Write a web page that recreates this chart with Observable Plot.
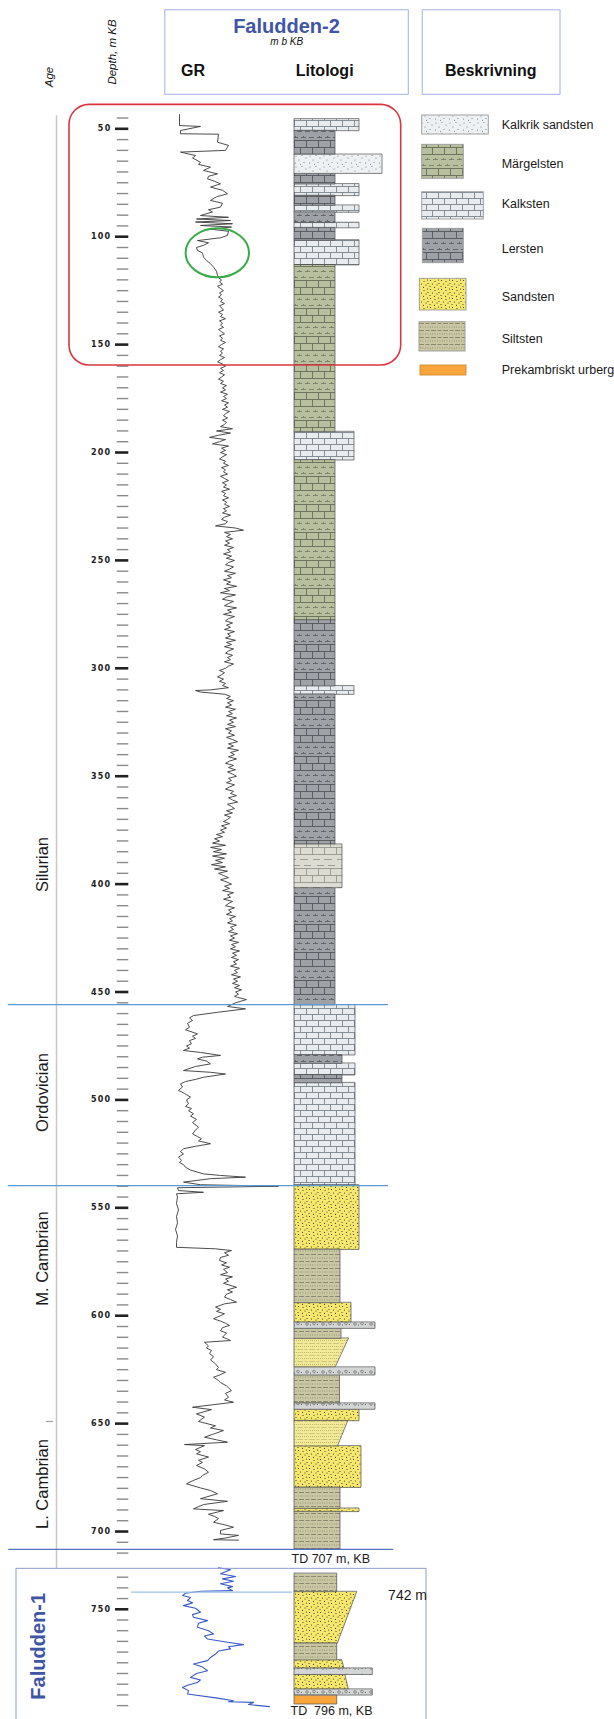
<!DOCTYPE html>
<html><head><meta charset="utf-8">
<script src="https://cdn.jsdelivr.net/npm/d3@7"></script>
<script src="https://cdn.jsdelivr.net/npm/@observablehq/plot@0.6"></script>
<style>
body{margin:0;background:#fff;font-family:"Liberation Sans",Arial,sans-serif;}
#wrap{position:relative;width:614px;height:1719px;overflow:hidden;}
#wrap svg.layer{position:absolute;left:0;top:0;}
</style></head><body>
<svg width="0" height="0" style="position:absolute">
<defs>
<pattern id="p-kalk" width="24" height="12" patternUnits="userSpaceOnUse">
 <rect width="24" height="12" fill="#e8ecef"/>
 <path d="M0 0.5H24M0 6.5H24M6.5 0.5V6.5M18.5 0.5V6.5M0.5 6.5V12M12.5 6.5V12" stroke="#7b838c" stroke-width="0.9" fill="none"/>
</pattern>
<pattern id="p-margel" width="24" height="28" patternUnits="userSpaceOnUse">
 <rect width="24" height="28" fill="#b7bf9f"/>
 <path d="M0 0.5H24M0 7.5H24M0 14.5H24M6.5 0.5V7.5M18.5 0.5V7.5M0.5 7.5V14.5M12.5 7.5V14.5" stroke="#5d6350" stroke-width="0.8" fill="none"/>
 <path d="M1 19.5H6M9 19.5H14M17 19.5H22M3.5 18V19.5M11.5 18V19.5M19.5 18V19.5M5 25.5H10M13 25.5H18M21 25.5H24M0 25.5H2M7.5 24V25.5M15.5 24V25.5" stroke="#70775f" stroke-width="0.8" fill="none"/>
</pattern>
<pattern id="p-ler" width="24" height="28" patternUnits="userSpaceOnUse">
 <rect width="24" height="28" fill="#9ea2a7"/>
 <path d="M0 0.5H24M0 7.5H24M0 14.5H24M6.5 0.5V7.5M18.5 0.5V7.5M0.5 7.5V14.5M12.5 7.5V14.5" stroke="#4a4e54" stroke-width="0.8" fill="none"/>
 <path d="M1 19.5H6M9 19.5H14M17 19.5H22M3.5 18V19.5M11.5 18V19.5M19.5 18V19.5M5 25.5H10M13 25.5H18M21 25.5H24M0 25.5H2M7.5 24V25.5M15.5 24V25.5" stroke="#55595f" stroke-width="0.8" fill="none"/>
</pattern>
<pattern id="p-lerkalk" width="24" height="28" patternUnits="userSpaceOnUse">
 <rect width="24" height="28" fill="#dcdcd3"/>
 <path d="M0 0.5H24M0 7.5H24M0 14.5H24M6.5 0.5V7.5M18.5 0.5V7.5M0.5 7.5V14.5M12.5 7.5V14.5" stroke="#8d8d87" stroke-width="0.8" fill="none"/>
 <path d="M1 19.5H8M12 19.5H20M5 25.5H12M16 25.5H23" stroke="#8d8d87" stroke-width="0.8" fill="none"/>
</pattern>
<pattern id="p-kalkrik" width="14" height="11" patternUnits="userSpaceOnUse">
 <rect width="14" height="11" fill="#eef1f3"/>
 <g fill="#6d7479"><circle cx="2" cy="2" r="0.55"/><circle cx="8" cy="1.5" r="0.55"/><circle cx="12" cy="4" r="0.55"/><circle cx="5" cy="6" r="0.55"/><circle cx="10" cy="8.5" r="0.55"/><circle cx="1.5" cy="9" r="0.55"/><circle cx="6.5" cy="10.2" r="0.55"/></g>
</pattern>
<pattern id="p-sand" width="11" height="9" patternUnits="userSpaceOnUse">
 <rect width="11" height="9" fill="#f6e86c"/>
 <g fill="#2f2f2f"><circle cx="1.5" cy="1.5" r="0.6"/><circle cx="6" cy="2.5" r="0.6"/><circle cx="9.5" cy="1" r="0.6"/><circle cx="3.5" cy="5" r="0.6"/><circle cx="8" cy="6" r="0.6"/><circle cx="1" cy="7.5" r="0.6"/><circle cx="5.5" cy="8.3" r="0.6"/><circle cx="10" cy="4.5" r="0.6"/></g>
</pattern>
<pattern id="p-siltsand" width="12" height="6" patternUnits="userSpaceOnUse">
 <rect width="12" height="6" fill="#f3ea98"/>
 <path d="M0 2.5H12" stroke="#a79f5a" stroke-width="0.7" stroke-dasharray="1 1"/>
 <path d="M0 5.5H12" stroke="#b3ab6a" stroke-width="0.6" stroke-dasharray="3 1.5"/>
</pattern>
<pattern id="p-silt" width="12" height="7" patternUnits="userSpaceOnUse">
 <rect width="12" height="7" fill="#c9c7a3"/>
 <path d="M0 1.5H12" stroke="#6f6d58" stroke-width="0.7" stroke-dasharray="4 1.5"/>
 <path d="M0 5H12" stroke="#7d7b64" stroke-width="0.7" stroke-dasharray="1 1.5"/>
</pattern>
<pattern id="p-kongl" width="16" height="8" patternUnits="userSpaceOnUse">
 <rect width="16" height="8" fill="#d4d6d6"/>
 <g fill="none" stroke="#555" stroke-width="0.6"><circle cx="3" cy="4" r="1.3"/><circle cx="10" cy="3.5" r="1.3"/></g>
 <g fill="#555"><circle cx="6.5" cy="5" r="0.6"/><circle cx="13.5" cy="4.5" r="0.6"/></g>
</pattern>
</defs>
</svg>
<div id="wrap"></div>
<script>
// ---------------- DATA ----------------
// Faludden-2 gamma ray log: [depth m KB, GR (relative units)]
const grF2 = [
[43.4,39],[48.5,39],[48.9,60],[50.8,40],[52.3,40],[52.5,78],[56.2,77],[57.7,88],[60,85],[60.8,40],[62.4,55],[63.5,52],[65.5,60],[66.5,58],[67.8,70],[69.3,63],[70.9,77],[72,68],[73.2,67],[74.3,74],[75.5,80],[77,70],[78.5,82],[80.1,87],[81.5,76],[83.2,70],[84.5,82],[86.3,80],[87.5,68],[88.5,72],[90.2,60],[91,88],[91.8,56],[92.5,90],[93.2,55],[94,92],[94.8,60],[95.5,91],[96.5,70],[97.5,88],[99.4,87],[100.5,80],[101.8,57],[102.8,68],[104,63],[105,56],[106.4,57],[107.5,62],[109.5,63],[111,66],[112.5,70],[114.1,73],[116,76],[118,77],
[119,78],[120,81],[121,79],[122,82],[123,77],[124,80],[125,83],[126,79],[127,81],[128,78],[129,82],[130,80],[131,84],[132,79],[133,81],[134,83],[135,78],[136,82],[137,80],[138,85],[139,79],[140,82],[141,80],[142,83],[143,78],[144,81],[145,84],[146,79],[147,82],[148,80],[149,85],[150,81],
[151,78],[152,83],[153,80],[154,82],[155,79],[156,84],[157,80],[158,77],[159,82],[160,85],[161,80],[162,83],[163,79],[164,84],[165,81],[166,78],[167,83],[168,80],[169,86],[170,82],[171,85],[172,80],[173,87],[174,83],[175,86],[176,81],[177,88],[178,84],[179,87],[180,82],[181,89],[182,85],[183,83],[184,87],[185,82],[186,86],[187,84],[188,80],[189,92],[190,76],[191,90],[192,78],[193,69],[194,85],[195,79],[196,72],[197,88],[198,81],[199,85],
[200,80],[201,86],[202,82],[203,79],[204,85],[205,83],[206,88],[207,81],[208,85],[209,83],[210,87],[211,80],[212,84],[213,88],[214,82],[215,86],[216,83],[217,89],[218,81],[219,85],[220,83],[221,88],[222,82],[223,86],[224,84],[225,89],[226,83],[227,86],[228,82],[229,90],[230,84],[231,81],[232,87],[233,85],[234,75],[235,95],[236,103],[237,84],[238,90],[239,86],
[240,92],[241,85],[242,89],[243,84],[244,93],[245,87],[246,90],[247,83],[248,91],[249,86],[250,94],[251,88],[252,85],[253,93],[254,89],[255,84],[256,95],[257,87],[258,91],[259,83],[260,90],[261,86],[262,96],[263,84],[264,89],[265,80],[266,95],[267,86],[268,82],[269,93],[270,88],[271,84],[272,96],[273,87],[274,91],[275,83],[276,94],[277,88],[278,85],[279,92],[280,86],[281,90],[282,84],[283,94],[284,87],[285,90],[286,85],[287,95],[288,86],[289,91],[290,84],[291,93],[292,88],[293,85],[294,92],[295,87],[296,90],[297,84],[298,93],[299,88],
[300,85],[301,79],[302,84],[303,81],[304,77],[305,83],[306,79],[307,85],[308,82],[309,88],[310,70],[310.3,55],[311,60],[312,84],[313,90],[314,86],[315,93],[316,87],[317,91],[318,85],[319,95],[320,88],[321,92],[322,86],[323,96],[324,89],[325,93],[326,87],[327,95],[328,85],[329,91],[330,88],[331,94],[332,86],[333,92],[334,97],[335,88],[336,93],[337,87],[338,98],[339,90],[340,94],[341,88],[342,96],[343,89],[344,85],[345,93],[346,88],[347,95],[348,87],[349,92],
[350,96],[351,88],[352,91],[353,86],[354,94],[355,89],[356,85],[357,93],[358,90],[359,96],[360,88],[361,92],[362,97],[363,87],[364,91],[365,94],[366,86],[367,92],[368,84],[369,90],[370,87],[371,83],[372,89],[373,81],[374,86],[375,80],[376,84],[377,76],[378,82],[379,74],[380,79],[381,72],[382,85],[383,70],[384,81],[385,73],[386,86],[387,72],[388,84],[389,75],[390,82],[391,71],[392,85],[393,74],[394,87],[395,78],[396,83],[397,88],[398,80],[399,86],
[400,91],[401,84],[402,89],[403,82],[404,93],[405,87],[406,90],[407,83],[408,92],[409,88],[410,85],[411,94],[412,88],[413,91],[414,86],[415,95],[416,89],[417,92],[418,87],[419,96],[420,90],[421,93],[422,88],[423,97],[424,90],[425,94],[426,89],[427,98],[428,91],[429,95],[430,90],[431,99],[432,92],[433,96],[434,91],[435,98],[436,93],[437,96],[438,90],[439,99],[440,94],[441,97],[442,91],[443,100],[444,93],[445,97],[446,92],[447,99],[448,94],[449,101],[450,95],[451,98],[452,94],[452.5,97],[453.5,106],[455,95],
[456.7,87],[457.8,105],[459.4,77],[460.9,53],[462,49],[463.2,52],[464.5,47],[466.3,49],[467.5,45],[469.4,57],[470.5,52],[471.5,55],[472.5,49],[474,51],[475,46],[476,49],[477.1,43],[478,60],[479.4,80],[480.2,62],[481,57],[482,66],[483.3,70],[484.5,55],[486.4,43],[487.2,70],[488,85],[489.5,63],[490.5,55],[491.5,45],[492.6,40],[494,42],[495.6,38],[497,44],[498.7,50],[500,46],[501.8,48],[503,45],[504,51],[505,48],[506.4,53],[507.5,50],[509,56],[510.5,52],[512.6,58],[514,55],[515.7,52],[517,57],[518,61],[519,58],[520.3,70],[521.5,55],[522.6,43],[524,40],[525,43],[526.5,38],[528,41],[529,39],[530,43],[531.2,45],[532.5,50],[534.3,63],[535,80],[535.8,105],[536.5,70],[538.1,43],[539.3,60],[540,138],[540.7,37],[542,38],[542.8,63],[543.5,36],
[545,37],[548,36],[551,38],[554,36],[557,37],[560,35],[563,37],[566,36],[568.3,36],[569,75],[569.8,91],[570.8,84],[572,88],[573,80],[574.4,79],[575.5,86],[576.5,81],[577.5,89],[578.5,83],[580,87],[581,80],[582,92],[583,85],[584,88],[585,83],[586.8,96],[588,87],[589,92],[590,86],[591.4,84],[592.5,90],[593.7,96],[594.5,84],[596,75],[597,80],[598,76],[599.1,84],[600,80],[601.4,73],[602.5,80],[603.5,85],[604.5,89],[605.5,82],[607,80],[608,86],[609.9,82],[611,88],[611.5,90],[612.3,64],[614,68],[615,66],[616.1,71],[617.5,69],[619,73],[620.5,70],[622.3,75],[624,78],[625,76],[626.2,85],[627.5,79],[628.5,73],[630,78],[631,80],[632.5,86],[634.7,91],[636,85],[637.8,88],[639,84],[640.1,93],[642.4,52],[643.5,71],[645.5,56],[647,64],[649,58],[651,75],[652,70],[653.2,83],[655,72],[656.3,64],[657.5,76],[658.6,87],[659.7,44],[660.2,64],[662,55],[663,60],[664,56],[665.5,68],[667,58],[668,62],[669.4,56],[671,64],[672.5,68],[674,62],[675,60],[676.5,52],[677.9,46],[679.8,60],[681,70],[682.5,77],[684.8,60],[686,87],[687.5,63],[689.5,53],[690.3,83],[692,68],[693,74],[694,78],[695.7,73],[697,85],[698,93],[699.5,80],[701.1,80],[701.8,98],[703,85],[703.8,73],[704,98]
];
// Faludden-1 gamma ray log
const grF1 = [
[730.6,78],[731.5,90],[733.4,80],[734.7,95],[735.8,82],[736.9,93],[738.1,80],[739.4,92],[740,87],[741.3,92],[741.6,60],[742.5,45],[743.6,42],[744.5,50],[745.9,47],[747,52],[748.3,43],[749.5,55],[751.4,60],[752.5,52],[753.7,53],[755.3,67],[756.5,58],[758.4,57],[760,68],[761.5,73],[762.5,64],[763.9,67],[765.4,87],[766.5,103],[767.5,88],[768.5,90],[769.5,78],[770.9,75],[772.5,70],[774,67],[775.6,53],[777,62],[778.7,67],[780,56],[781.8,50],[783,60],[784.2,57],[785.5,47],[786.5,42],[788,48],[789.6,47],[791.5,77],[792.7,93],[793.2,88],[793.5,113],[794.5,108],[795.5,129]
];
// Lithology: [well, type, top m, bottom m, width at top, width at bottom (grain-size index)]
const litho = [
["F2","Kalksten",45.7,51.1,65,65],["F2","Lersten",51.1,62.1,41,41],["F2","Kalkrik sandsten",62.1,70.9,88,88],["F2","Lersten",70.9,75.8,41,41],["F2","Kalksten",75.8,81.2,65,65],["F2","Lersten",81.2,85.7,41,41],["F2","Kalksten",85.7,88.9,65,65],["F2","Lersten",88.9,93.7,41,41],["F2","Kalksten",93.7,96.1,65,65],["F2","Lersten",96.1,101.8,41,41],["F2","Kalksten",101.8,113.3,65,65],["F2","Märgelsten",113.3,190.6,41,41],["F2","Kalksten",190.6,203.7,60,60],["F2","Märgelsten",203.7,277.9,41,41],["F2","Lersten",277.9,308.4,41,41],["F2","Kalksten",308.4,312.3,60,60],["F2","Lersten",312.3,381.8,41,41],["F2","Lerig kalksten",381.8,401.9,48,48],["F2","Lersten",401.9,456.2,41,41],
["F2","Kalksten",456.2,479.4,61,61],["F2","Lersten",479.4,483.3,48,48],["F2","Kalksten",483.3,488.7,61,61],["F2","Lersten",488.7,492.3,48,48],["F2","Kalksten",492.3,539.7,61,61],
["F2","Sandsten",539.7,569.5,65,65],["F2","Siltsten",569.5,594.2,46,46],["F2","Sandsten",594.2,603.3,57,57],["F2","Konglomerat",603.3,606.1,81,81],["F2","Siltsten",606.1,610.7,47,47],["F2","Siltig sandsten",610.7,624.1,54.5,41],["F2","Konglomerat",624.1,627.7,81,81],["F2","Siltsten",627.7,640.8,45.5,45.5],["F2","Konglomerat",640.8,643.6,81,81],["F2","Sandsten",643.6,648.9,65,65],["F2","Siltig sandsten",648.9,660.6,53.7,43.5],["F2","Sandsten",660.6,679.8,67,67],["F2","Siltsten",679.8,689.5,46,46],["F2","Sandsten",689.5,691,65,65],["F2","Siltsten",691,708.3,46,46],
["F1","Siltsten",733.5,742,42.7,42.7],["F1","Sandsten",742,766.1,62.7,43.3],["F1","Siltsten",766.1,773.9,42.7,42.7],["F1","Sandsten",773.9,777.8,47.7,50],["F1","Konglomerat",777.8,780.7,78.3,78.3],["F1","Sandsten",780.7,787.6,51,54.3],["F1","Konglomerat",787.6,790.3,78.3,78.3],["F1","Prekambriskt urberg",790.5,794.5,42.7,42.7]
];
const ageNames = ["Silurian","Ordovician","M. Cambrian","L. Cambrian"];
const ageLabelDepth = [390.9, 496.6, 573.5, 678];
const ageBoundaries = [455.8, 539.7];
const tdF2 = 707, tdF1 = 796, tdF2Line = 708.3, splice = 742;
const legendNames = ["Kalkrik sandsten","Märgelsten","Kalksten","Lersten","Sandsten","Siltsten","Prekambriskt urberg"];
const majorTicks = d3.range(50, 751, 50);
const allTicks = d3.range(45, 711, 5).concat(d3.range(735, 796, 5));
const minorTicks = allTicks.filter(t => t % 50 !== 0);

// ---------------- STYLE / LAYOUT ----------------
const FONT = '"Liberation Sans", Arial, sans-serif';
const fills = {"Kalksten":"url(#p-kalk)","Märgelsten":"url(#p-margel)","Lersten":"url(#p-ler)","Lerig kalksten":"url(#p-lerkalk)","Kalkrik sandsten":"url(#p-kalkrik)","Sandsten":"url(#p-sand)","Siltig sandsten":"url(#p-siltsand)","Siltsten":"url(#p-silt)","Konglomerat":"url(#p-kongl)","Prekambriskt urberg":"#f8a63c"};
const W = 614, H = 1719;
const Y = {type:"linear", domain:[0,710,728,800], range:[20.4,1552.6,1561.7,1715.8]};
const wrap = document.getElementById("wrap");
function add(svg){ svg.classList.add("layer"); wrap.appendChild(svg); return svg; }

// Lithology column
const lithoPts = litho.flatMap((r,i)=>[{id:i,type:r[1],d:r[2],w:r[4]},{id:i,type:r[1],d:r[3],w:r[5]}]);
add(Plot.plot({
  width:W, height:H, margin:0, style:{background:"transparent", fontFamily:FONT},
  x:{domain:[0,100], range:[294,394], axis:null},
  y:{...Y, axis:null},
  marks: Object.keys(fills).map(t => Plot.areaX(lithoPts.filter(p=>p.type===t), {x1:0, x2:"w", y:"d", z:"id", fill:fills[t], stroke:"#4d4d4d", strokeWidth:0.7}))
}));

// GR logs + depth axis
const grPlot = add(Plot.plot({
  width:W, height:H, marginLeft:128.3, marginTop:0, marginRight:0, marginBottom:0,
  style:{background:"transparent", fontFamily:FONT},
  x:{domain:[0,150], range:[140,290], axis:null},
  y:{...Y},
  marks:[
    Plot.axisY(minorTicks, {anchor:"left", tickSize:11.5, tickFormat:()=>"", stroke:"#8a8a8a", strokeWidth:1.4, label:null}),
    Plot.axisY(majorTicks, {anchor:"left", tickSize:13.3, tickPadding:4, stroke:"#222", fill:"#222", strokeWidth:2.6, label:null, tickFormat:d=>String(d)}),
    Plot.line(grF2, {x:d=>d[1], y:d=>d[0], stroke:"#383838", strokeWidth:0.9}),
    Plot.line(grF1, {x:d=>d[1], y:d=>d[0], stroke:"#3a5bc7", strokeWidth:1.1})
  ]
}));
d3.select(grPlot).selectAll('g[aria-label="y-axis tick label"] text')
  .style("font-family","DejaVu Sans").style("font-weight","bold").style("font-size","8px").style("letter-spacing","1.3px").attr("fill","#222");
{ // highlight ellipse around the GR feature
  const sx = grPlot.scale("x"), sy = grPlot.scale("y");
  d3.select(grPlot).append("ellipse").attr("cx", sx.apply(77.3)).attr("cy", sy.apply(107.7)).attr("rx",31.7).attr("ry",24.5)
    .attr("fill","none").attr("stroke","#3aab48").attr("stroke-width",2);
}

// Annotations
add(Plot.plot({
  width:W, height:H, margin:0, style:{background:"transparent", fontFamily:FONT},
  x:{domain:[0,614], range:[0,614], axis:null},
  y:{...Y, axis:null},
  marks:[
    Plot.ruleX([56], {y1:43.9, y2:731.1, stroke:"#c8c8c8", strokeWidth:1.5}),
    Plot.ruleY([649], {x1:46, x2:53, stroke:"#a0a0a0", strokeWidth:1.2}),
    Plot.rect([0], {x1:16, x2:426, y1:731.1, y2:803, fill:"none", stroke:"#8e9bd6", strokeWidth:1}),
    Plot.ruleY(ageBoundaries, {x1:7.8, x2:388, stroke:"#5b9bd5", strokeWidth:1.3}),
    Plot.ruleY([tdF2Line], {x1:8.3, x2:393.3, stroke:"#5573c4", strokeWidth:1.3}),
    Plot.ruleY([splice], {x1:131, x2:292, stroke:"#9cc3e6", strokeWidth:1.3}),
    Plot.rect([0], {x1:69, x2:400.7, y1:38.9, y2:159.7, rx:20, fill:"none", stroke:"#d9363e", strokeWidth:1.6}),
    Plot.text(ageNames, {x:42, y:(d,i)=>ageLabelDepth[i], text:d=>d, rotate:-90, fontSize:16.5, fill:"#1a1a1a"}),
    Plot.text(["Faludden-1"], {x:38, y:767.3, text:d=>d, rotate:-90, fontSize:20, fontWeight:"bold", fill:"#3f55a5"}),
    Plot.text([splice], {x:387.6, y:d=>d, dy:3.5, text:d=>`${d} m`, textAnchor:"start", fontSize:14, fill:"#1a1a1a"}),
    Plot.text([tdF2], {x:291, y:tdF2Line, dy:10, text:d=>`TD ${d} m, KB`, textAnchor:"start", fontSize:12.5, fill:"#1a1a1a"}),
    Plot.text([tdF1], {x:290, y:d=>d, dy:3.5, text:d=>`TD\u00a0 ${d} m, KB`, textAnchor:"start", fontSize:12.5, fill:"#1a1a1a"})
  ]
}));

// Header + legend
const hdr = d3.select(wrap).append("svg").attr("class","layer").attr("width",W).attr("height",400)
  .style("font-family",FONT).style("pointer-events","none");
hdr.append("rect").attr("x",164.8).attr("y",9.8).attr("width",243.5).attr("height",84.5).attr("fill","none").attr("stroke","#a3aee0");
hdr.append("rect").attr("x",422.2).attr("y",9.8).attr("width",137.8).attr("height",84.5).attr("fill","none").attr("stroke","#a3aee0");
hdr.append("text").attr("x",286.5).attr("y",32.7).attr("text-anchor","middle").attr("font-size",20).attr("font-weight","bold").attr("fill","#3f55a5").text("Faludden-2");
hdr.append("text").attr("x",286.7).attr("y",45).attr("text-anchor","middle").attr("font-size",10).attr("font-style","italic").attr("fill","#111").text("m b KB");
[["GR",193],["Litologi",324.7],["Beskrivning",490.8]].forEach(([t,x])=>
  hdr.append("text").attr("x",x).attr("y",76).attr("text-anchor","middle").attr("font-size",16).attr("font-weight","bold").attr("fill","#111").text(t));
[["Age",49,77],["Depth, m KB",111.7,52]].forEach(([t,x,y])=>
  hdr.append("text").attr("transform",`translate(${x},${y}) rotate(-90)`).attr("dy","0.35em").attr("text-anchor","middle").attr("font-size",11.5).attr("font-style","italic").attr("fill","#111").text(t));
const swatch = [[421.7,115,66.6,19],[421.7,144.3,41.6,34],[421.7,191.7,61.6,27.3],[422.3,228.3,41,34.4],[419.3,278.3,46.7,31.7],[419,321.7,46,29.3],[420,365,46,10]];
const legendTextY = [125,163.3,204,248.3,296.7,338.3,370];
legendNames.forEach((n,i)=>{
  const [x,y,w,h] = swatch[i];
  hdr.append("rect").attr("x",x).attr("y",y).attr("width",w).attr("height",h).attr("fill",fills[n]).attr("stroke", n==="Prekambriskt urberg" ? "#d18b2c" : "#9a9a9a").attr("stroke-width",0.9);
  hdr.append("text").attr("x",501.7).attr("y",legendTextY[i]).attr("dy","0.35em").attr("font-size",12.5).attr("fill","#1a1a1a").text(n);
});
</script>
</body></html>
